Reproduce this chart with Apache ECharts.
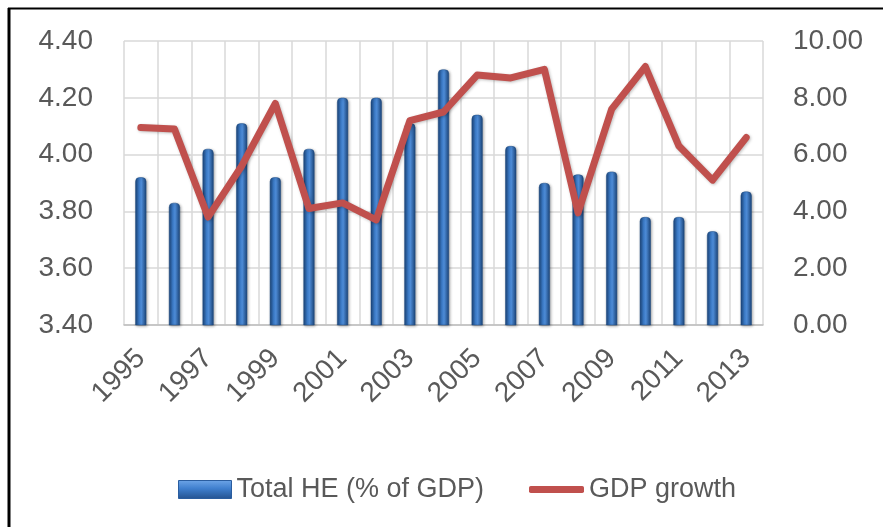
<!DOCTYPE html>
<html>
<head>
<meta charset="utf-8">
<script src="https://cdn.jsdelivr.net/npm/echarts@6/dist/echarts.min.js"></script>
<style>
  html, body { margin: 0; padding: 0; background: #ffffff; }
  #chart { width: 883px; height: 527px; }
</style>
</head>
<body>
<div id="chart"></div>
<script>
// Years on the category axis
var years = ['1995','1996','1997','1998','1999','2000','2001','2002','2003','2004',
             '2005','2006','2007','2008','2009','2010','2011','2012','2013'];
// Total health expenditure, % of GDP (left axis)
var totalHE = [3.92, 3.83, 4.02, 4.11, 3.92, 4.02, 4.20, 4.20, 4.11, 4.30,
               4.14, 4.03, 3.90, 3.93, 3.94, 3.78, 3.78, 3.73, 3.87];
// Annual GDP growth, % (right axis)
var gdpGrowth = [6.95, 6.9, 3.8, 5.6, 7.8, 4.1, 4.3, 3.7, 7.2, 7.5,
                 8.8, 8.7, 9.0, 3.95, 7.6, 9.1, 6.3, 5.1, 6.6];
// Axis tick ranges
var leftAxisMin = 3.4, leftAxisMax = 4.4, leftAxisStep = 0.2;
var rightAxisMin = 0, rightAxisMax = 10, rightAxisStep = 2;

var textColor = '#595959';
var fontFamily = '"Liberation Sans", Arial, sans-serif';

var chart = echarts.init(document.getElementById('chart'), null, { renderer: 'canvas' });

var barFill = new echarts.graphic.LinearGradient(0, 0, 1, 0, [
  { offset: 0, color: '#1b4478' },
  { offset: 0.35, color: '#3b7ac6' },
  { offset: 0.55, color: '#4d8bd6' },
  { offset: 1, color: '#1b4478' }
]);
var legendBarFill = new echarts.graphic.LinearGradient(0, 0, 0, 1, [
  { offset: 0, color: '#6ea6e8' },
  { offset: 0.45, color: '#3f7fce' },
  { offset: 1, color: '#24528f' }
]);

chart.setOption({
  backgroundColor: '#ffffff',
  animation: false,
  textStyle: { fontFamily: fontFamily },
  grid: { left: 124, right: 120, top: 41, height: 284, containLabel: false },
  legend: [
    {
      data: [{ name: 'Total HE (% of GDP)', icon: 'rect', itemStyle: { color: legendBarFill, borderColor: '#2a5d9f', borderWidth: 1 } }],
      left: 173, top: 471,
      itemWidth: 53, itemHeight: 18, itemGap: 0,
      textStyle: { color: textColor, fontSize: 27, fontFamily: fontFamily }
    },
    {
      data: [{ name: 'GDP growth', icon: 'roundRect', itemStyle: { color: '#c0504d' } }],
      left: 524, top: 471,
      itemWidth: 55, itemHeight: 7, itemGap: 0,
      textStyle: { color: textColor, fontSize: 27, fontFamily: fontFamily }
    }
  ],
  xAxis: {
    type: 'category',
    data: years,
    boundaryGap: true,
    axisLine: { show: true, lineStyle: { color: '#bfbfbf', width: 1.5 } },
    axisTick: { show: false },
    splitLine: { show: true, interval: 0, lineStyle: { color: '#d9d9d9', width: 1.5 } },
    axisLabel: {
      interval: 1, rotate: 45, margin: 29,
      color: textColor, fontSize: 28, fontFamily: fontFamily
    }
  },
  yAxis: [
    {
      type: 'value',
      min: leftAxisMin, max: leftAxisMax, interval: leftAxisStep,
      axisLine: { show: false }, axisTick: { show: false },
      splitLine: { show: true, lineStyle: { color: '#d9d9d9', width: 1.5 } },
      axisLabel: {
        margin: 31, color: textColor, fontSize: 28, fontFamily: fontFamily,
        formatter: function (v) { return v.toFixed(2); }
      }
    },
    {
      type: 'value',
      min: rightAxisMin, max: rightAxisMax, interval: rightAxisStep,
      axisLine: { show: false }, axisTick: { show: false },
      splitLine: { show: false },
      axisLabel: {
        margin: 30, color: textColor, fontSize: 28, fontFamily: fontFamily,
        formatter: function (v) { return v.toFixed(2); }
      }
    }
  ],
  series: [
    {
      name: 'Total HE (% of GDP)',
      type: 'bar',
      yAxisIndex: 0,
      data: totalHE,
      barWidth: 11,
      itemStyle: {
        color: barFill,
        borderRadius: [4, 4, 0, 0],
        borderColor: '#1d4a82',
        borderWidth: 0.5,
        shadowColor: 'rgba(0,0,0,0.35)',
        shadowBlur: 3,
        shadowOffsetX: 1,
        shadowOffsetY: 1
      },
      z: 2
    },
    {
      name: 'GDP growth',
      type: 'line',
      yAxisIndex: 1,
      data: gdpGrowth,
      symbol: 'none',
      lineStyle: {
        color: '#c0504d', width: 7, join: 'round', cap: 'round',
        shadowColor: 'rgba(0,0,0,0.25)', shadowBlur: 3, shadowOffsetX: 1, shadowOffsetY: 1
      },
      itemStyle: { color: '#c0504d' },
      z: 3
    }
  ],
  graphic: [
    // frame around the chart area: left edge and top edge
    { type: 'line', shape: { x1: 9, y1: 8, x2: 9, y2: 527 }, style: { stroke: '#000', lineWidth: 3 } },
    { type: 'line', shape: { x1: 8, y1: 8.5, x2: 883, y2: 8.5 }, style: { stroke: '#000', lineWidth: 1.8 } }
  ]
});
</script>
</body>
</html>
